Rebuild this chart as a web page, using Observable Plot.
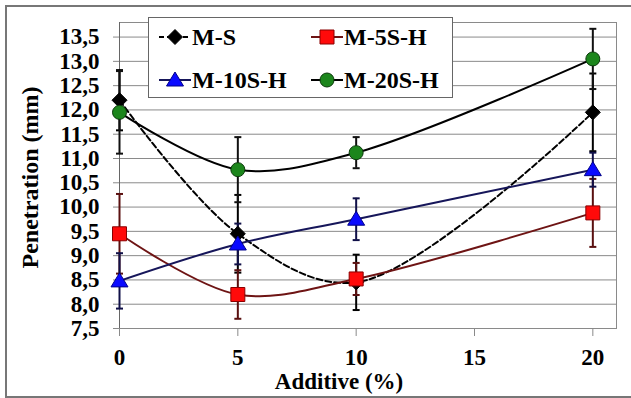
<!DOCTYPE html>
<html>
<head>
<meta charset="utf-8">
<script src="https://cdn.jsdelivr.net/npm/d3@7"></script>
<script src="https://cdn.jsdelivr.net/npm/@observablehq/plot@0.6"></script>
<style>
  html, body { margin: 0; padding: 0; background: #fff; }
  #wrap { position: relative; width: 631px; height: 398px; overflow: hidden; background: #fff; }
  #border { position: absolute; left: 5px; top: 5px; width: 640px; height: 389px;
            border-top: 2px solid #777; border-left: 2px solid #777; border-bottom: 2px solid #777; }
  #chart { position: absolute; left: 0; top: 0; }
  #legend { position: absolute; left: 148px; top: 17px; width: 303px; height: 79px;
            border: 1px solid #666; background: #fff; }
</style>
</head>
<body>
<div id="wrap">
  <div id="border"></div>
  <div id="chart"></div>
  <div id="legend"></div>
</div>
<script>
// ---- data ----
const additive = [0, 5, 10, 20];
const xTicks = [0, 5, 10, 15, 20];
const yTicks = [7.5, 8, 8.5, 9, 9.5, 10, 10.5, 11, 11.5, 12, 12.5, 13, 13.5];
const seriesNames = ["M-S", "M-5S-H", "M-10S-H", "M-20S-H"];
const MS      = [12.2, 9.45, 8.45, 11.95];
const MS_err  = [0.62, 0.80, 0.57, 0.80];
const M5      = [9.45, 8.20, 8.52, 9.88];
const M5_err  = [0.82, 0.50, 0.33, 0.70];
const M10     = [8.48, 9.24, 9.75, 10.77];
const M10_err = [0.57, 0.42, 0.43, 0.35];
const M20     = [11.95, 10.77, 11.12, 13.05];
const M20_err = [0.85, 0.67, 0.32, 0.62];
const xLabel = "Additive (%)";
const yLabel = "Penetration (mm)";

const valuesBy = {"M-S": MS, "M-5S-H": M5, "M-10S-H": M10, "M-20S-H": M20};
const errsBy = {"M-S": MS_err, "M-5S-H": M5_err, "M-10S-H": M10_err, "M-20S-H": M20_err};

// ---- styles ----
const FONT = "Liberation Serif";
const diamond = {draw(c) { c.moveTo(0, -7.5); c.lineTo(7.5, 0); c.lineTo(0, 7.5); c.lineTo(-7.5, 0); c.closePath(); }};
const square = {draw(c) { c.moveTo(-7, -7); c.lineTo(7, -7); c.lineTo(7, 7); c.lineTo(-7, 7); c.closePath(); }};
const triangle = {draw(c) { c.moveTo(0, -8); c.lineTo(8.5, 6); c.lineTo(-8.5, 6); c.closePath(); }};
const circle = {draw(c) { c.moveTo(7, 0); c.arc(0, 0, 7, 0, 2 * Math.PI); c.closePath(); }};
const cap = {draw(c) { c.moveTo(-3.5, 0); c.lineTo(3.5, 0); }};

const styles = {
  "M-S":     {line: "#000", dash: "6,3", err: "#000", fill: "#000", mstroke: "#000", symbol: diamond},
  "M-5S-H":  {line: "#6e1414", dash: null, err: "#5a1010", fill: "#ff0a0a", mstroke: "#8a0000", symbol: square},
  "M-10S-H": {line: "#16165a", dash: null, err: "#101048", fill: "#0a0aff", mstroke: "#00008a", symbol: triangle},
  "M-20S-H": {line: "#000", dash: null, err: "#111", fill: "#1c861c", mstroke: "#0b3a0b", symbol: circle}
};

const rows = [];
for (const s of seriesNames) {
  additive.forEach((x, i) => {
    const v = valuesBy[s][i], e = errsBy[s][i];
    rows.push({series: s, x, y: v, lo: v - e, hi: v + e});
  });
}

const lineMarks = [], errMarks = [], dotMarks = [];
for (const s of seriesNames) {
  const st = styles[s];
  const d = rows.filter(r => r.series === s);
  lineMarks.push(Plot.line(d, {x: "x", y: "y", stroke: st.line, strokeWidth: 2,
    strokeDasharray: st.dash || undefined, curve: "catmull-rom"}));
  errMarks.push(Plot.ruleX(d, {x: "x", y1: "lo", y2: "hi", stroke: st.err, strokeWidth: 2}));
  errMarks.push(Plot.dot(d, {x: "x", y: "lo", symbol: cap, fill: "none", stroke: st.err, strokeWidth: 2}));
  errMarks.push(Plot.dot(d, {x: "x", y: "hi", symbol: cap, fill: "none", stroke: st.err, strokeWidth: 2}));
  dotMarks.push(Plot.dot(d, {x: "x", y: "y", symbol: st.symbol, fill: st.fill, stroke: st.mstroke,
    strokeWidth: 1, strokeLinejoin: "round"}));
}

const fmt = d => d.toFixed(1).replace(".", ",");

const chart = Plot.plot({
  width: 631, height: 398,
  marginLeft: 119, marginRight: 15, marginTop: 22, marginBottom: 70,
  x: {domain: [0, 21]},
  y: {domain: [7.5, 13.8]},
  style: {fontFamily: FONT, fontWeight: "bold", fontSize: "23px", color: "#000", background: "transparent"},
  marks: [
    Plot.gridY(yTicks, {stroke: "#8a8a8a", strokeOpacity: 1}),
    Plot.frame({stroke: "#8a8a8a"}),
    Plot.axisY({ticks: yTicks, tickFormat: fmt, tickSize: 6, tickPadding: 14, stroke: "#8a8a8a",
                fill: "#000", label: null, fontSize: 23}),
    Plot.axisX({ticks: xTicks, tickSize: 8, tickPadding: 12, stroke: "#8a8a8a", fill: "#000", label: null, fontSize: 23}),
    Plot.ruleX([0], {stroke: "#666"}),
    ...lineMarks,
    ...errMarks,
    ...dotMarks,
    Plot.text([yLabel], {text: d => d, frameAnchor: "left", textAnchor: "middle", lineAnchor: "middle",
                         rotate: -90, dx: -89, dy: 2, fontSize: 24, fontWeight: "bold", fill: "#000"}),
    Plot.text([xLabel], {text: d => d, frameAnchor: "bottom", textAnchor: "middle", lineAnchor: "middle",
                         dx: -29, dy: 53, fontSize: 23, fontWeight: "bold", fill: "#000"})
  ]
});
chart.querySelectorAll("text").forEach(t => {
  t.setAttribute("font-family", FONT);
  t.style.fontFamily = FONT;
  t.style.fontWeight = "bold";
});
document.getElementById("chart").appendChild(chart);

// ---- legend ----
const ns = "http://www.w3.org/2000/svg";
const lsvg = document.createElementNS(ns, "svg");
lsvg.setAttribute("width", 303); lsvg.setAttribute("height", 79);
const slots = [[10, 19], [162, 19], [10, 62], [162, 62]];
seriesNames.forEach((s, i) => {
  const st = styles[s];
  const [lx, ly] = slots[i];
  const ln = document.createElementNS(ns, "line");
  ln.setAttribute("x1", lx); ln.setAttribute("x2", lx + 32);
  ln.setAttribute("y1", ly); ln.setAttribute("y2", ly);
  ln.setAttribute("stroke", st.line); ln.setAttribute("stroke-width", 2);
  if (st.dash) ln.setAttribute("stroke-dasharray", "5,3");
  lsvg.appendChild(ln);
  const p = d3.path(); st.symbol.draw(p);
  const mk = document.createElementNS(ns, "path");
  mk.setAttribute("d", p.toString());
  mk.setAttribute("transform", `translate(${lx + 16},${ly})`);
  mk.setAttribute("fill", st.fill); mk.setAttribute("stroke", st.mstroke);
  mk.setAttribute("stroke-linejoin", "round");
  lsvg.appendChild(mk);
  const t = document.createElementNS(ns, "text");
  t.setAttribute("x", lx + 33); t.setAttribute("y", ly);
  t.setAttribute("dy", "0.35em");
  t.setAttribute("font-family", FONT);
  t.setAttribute("font-weight", "bold");
  t.setAttribute("font-size", 24);
  t.textContent = s;
  lsvg.appendChild(t);
});
document.getElementById("legend").appendChild(lsvg);
</script>
</body>
</html>
